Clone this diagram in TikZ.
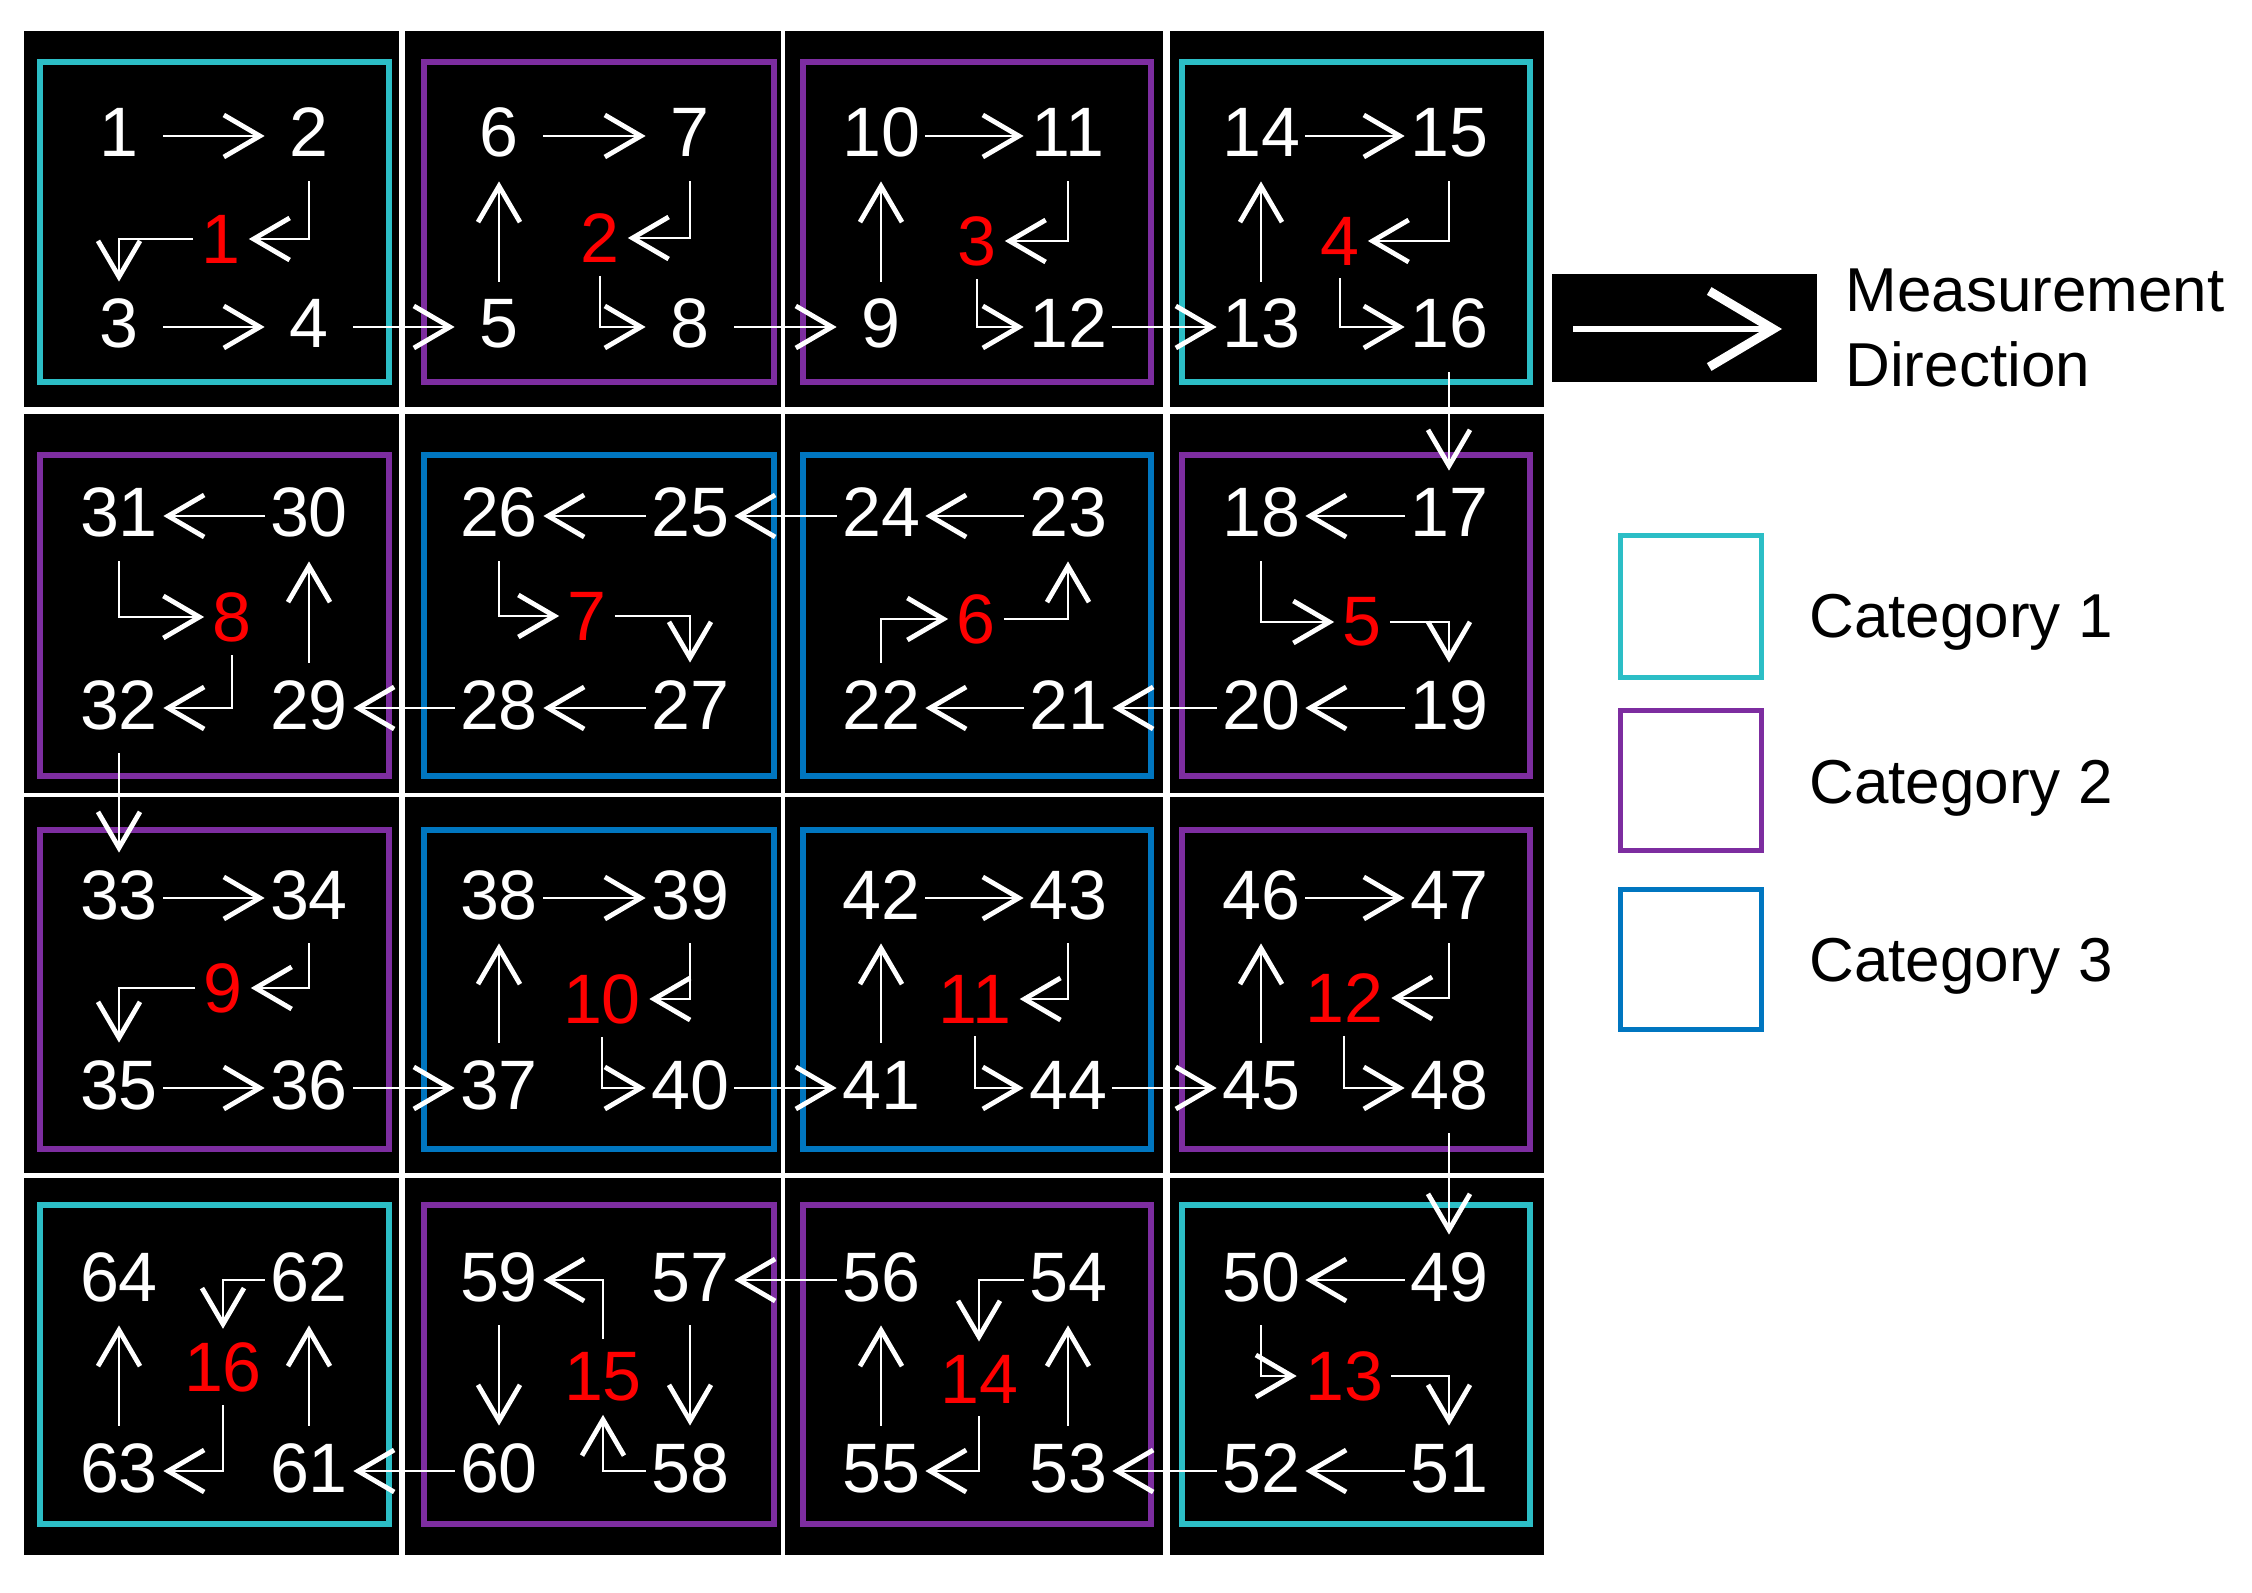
\documentclass[tikz,border=0pt]{standalone}
\usepackage{fontspec}
\setmainfont{Liberation Sans}
\usetikzlibrary{arrows.meta}
\definecolor{catA}{RGB}{44,190,198}
\definecolor{catB}{RGB}{125,45,160}
\definecolor{catC}{RGB}{0,118,192}
\definecolor{redn}{RGB}{255,0,0}
\begin{document}
\begin{tikzpicture}[x=0.5pt, y=-0.5pt,
  num/.style={text=white, font=\fontsize{35pt}{42pt}\selectfont, minimum width=44pt, minimum height=45pt, inner sep=0pt, text height=25pt, text depth=4pt},
  rnum/.style={text=redn, font=\fontsize{35pt}{42pt}\selectfont, inner xsep=4pt, inner ysep=6.5pt},
  arr/.style={draw=white, line width=1.4pt, -{Straight Barb[length=18pt, width=21pt, line width=2.4pt]}},
  legarr/.style={draw=white, line width=2.6pt, -{Straight Barb[length=32pt, width=38pt, line width=4.5pt]}},
  frameA/.style={draw=catA, line width=3pt},
  frameB/.style={draw=catB, line width=3pt},
  frameC/.style={draw=catC, line width=3pt},
  legbox/.style={line width=2.5pt},
  legtxt/.style={text=black, font=\fontsize{31pt}{37pt}\selectfont, inner sep=0pt, anchor=base west}
]
\useasboundingbox (0,0) rectangle (2252,1593);
\fill[white] (0,0) rectangle (2252,1593);

% cells
\foreach \xa/\xb in {24/399,405/781,785/1163,1170/1544}
  \foreach \ya/\yb in {31/407,414/793,797/1173,1178/1555}
    \fill[black] (\xa,\ya) rectangle (\xb,\yb);

% frames (row 1)
\draw[frameA] (40,62) rectangle (389,382);
\draw[frameB] (424,62) rectangle (774,382);
\draw[frameB] (803,62) rectangle (1151,382);
\draw[frameA] (1182,62) rectangle (1530,382);
% row 2
\draw[frameB] (40,455) rectangle (389,776);
\draw[frameC] (424,455) rectangle (774,776);
\draw[frameC] (803,455) rectangle (1151,776);
\draw[frameB] (1182,455) rectangle (1530,776);
% row 3
\draw[frameB] (40,830) rectangle (389,1149);
\draw[frameC] (424,830) rectangle (774,1149);
\draw[frameC] (803,830) rectangle (1151,1149);
\draw[frameB] (1182,830) rectangle (1530,1149);
% row 4
\draw[frameA] (40,1205) rectangle (389,1524);
\draw[frameB] (424,1205) rectangle (774,1524);
\draw[frameB] (803,1205) rectangle (1151,1524);
\draw[frameA] (1182,1205) rectangle (1530,1524);

% numbers row 1
\node[num] (n1) at (119,136) {1};
\node[num] (n2) at (309,136) {2};
\node[num] (n3) at (119,327) {3};
\node[num] (n4) at (309,327) {4};
\node[num] (n5) at (499,327) {5};
\node[num] (n6) at (499,136) {6};
\node[num] (n7) at (690,136) {7};
\node[num] (n8) at (690,327) {8};
\node[num] (n9) at (881,327) {9};
\node[num] (n10) at (881,136) {10};
\node[num] (n11) at (1068,136) {11};
\node[num] (n12) at (1068,327) {12};
\node[num] (n13) at (1261,327) {13};
\node[num] (n14) at (1261,136) {14};
\node[num] (n15) at (1449,136) {15};
\node[num] (n16) at (1449,327) {16};
% row 2
\node[num] (n17) at (1449,516) {17};
\node[num] (n18) at (1261,516) {18};
\node[num] (n19) at (1449,708) {19};
\node[num] (n20) at (1261,708) {20};
\node[num] (n21) at (1068,708) {21};
\node[num] (n22) at (881,708) {22};
\node[num] (n23) at (1068,516) {23};
\node[num] (n24) at (881,516) {24};
\node[num] (n25) at (690,516) {25};
\node[num] (n26) at (499,516) {26};
\node[num] (n27) at (690,708) {27};
\node[num] (n28) at (499,708) {28};
\node[num] (n29) at (309,708) {29};
\node[num] (n30) at (309,516) {30};
\node[num] (n31) at (119,516) {31};
\node[num] (n32) at (119,708) {32};
% row 3
\node[num] (n33) at (119,898) {33};
\node[num] (n34) at (309,898) {34};
\node[num] (n35) at (119,1088) {35};
\node[num] (n36) at (309,1088) {36};
\node[num] (n37) at (499,1088) {37};
\node[num] (n38) at (499,898) {38};
\node[num] (n39) at (690,898) {39};
\node[num] (n40) at (690,1088) {40};
\node[num] (n41) at (881,1088) {41};
\node[num] (n42) at (881,898) {42};
\node[num] (n43) at (1068,898) {43};
\node[num] (n44) at (1068,1088) {44};
\node[num] (n45) at (1261,1088) {45};
\node[num] (n46) at (1261,898) {46};
\node[num] (n47) at (1449,898) {47};
\node[num] (n48) at (1449,1088) {48};
% row 4
\node[num] (n49) at (1449,1280) {49};
\node[num] (n50) at (1261,1280) {50};
\node[num] (n51) at (1449,1471) {51};
\node[num] (n52) at (1261,1471) {52};
\node[num] (n53) at (1068,1471) {53};
\node[num] (n54) at (1068,1280) {54};
\node[num] (n55) at (881,1471) {55};
\node[num] (n56) at (881,1280) {56};
\node[num] (n57) at (690,1280) {57};
\node[num] (n58) at (690,1471) {58};
\node[num] (n59) at (499,1280) {59};
\node[num] (n60) at (499,1471) {60};
\node[num] (n61) at (309,1471) {61};
\node[num] (n62) at (309,1280) {62};
\node[num] (n63) at (119,1471) {63};
\node[num] (n64) at (119,1280) {64};

% red numbers
\node[rnum] (r1) at (221,239) {1};
\node[rnum] (r2) at (600,238) {2};
\node[rnum] (r3) at (977,241) {3};
\node[rnum] (r4) at (1340,241) {4};
\node[rnum] (r5) at (1362,622) {5};
\node[rnum] (r6) at (976,619) {6};
\node[rnum] (r7) at (587,616) {7};
\node[rnum] (r8) at (232,617) {8};
\node[rnum] (r9) at (223,988) {9};
\node[rnum] (r10) at (602,999) {10};
\node[rnum] (r11) at (975,999) {11};
\node[rnum] (r12) at (1344,998) {12};
\node[rnum] (r13) at (1344,1376) {13};
\node[rnum] (r14) at (979,1379) {14};
\node[rnum] (r15) at (603,1377) {15};
\node[rnum] (r16) at (223,1367) {16};

% cell 1
\draw[arr] (n1.east) -- (n2.west);
\draw[arr] (n2.south) |- (r1.east);
\draw[arr] (r1.west) -| (n3.north);
\draw[arr] (n3.east) -- (n4.west);
\draw[arr] (n4.east) -- (n5.west);
% cell 2
\draw[arr] (n5.north) -- (n6.south);
\draw[arr] (n6.east) -- (n7.west);
\draw[arr] (n7.south) |- (r2.east);
\draw[arr] (r2.south) |- (n8.west);
\draw[arr] (n8.east) -- (n9.west);
% cell 3
\draw[arr] (n9.north) -- (n10.south);
\draw[arr] (n10.east) -- (n11.west);
\draw[arr] (n11.south) |- (r3.east);
\draw[arr] (r3.south) |- (n12.west);
\draw[arr] (n12.east) -- (n13.west);
% cell 4
\draw[arr] (n13.north) -- (n14.south);
\draw[arr] (n14.east) -- (n15.west);
\draw[arr] (n15.south) |- (r4.east);
\draw[arr] (r4.south) |- (n16.west);
\draw[arr] (n16.south) -- (n17.north);
% cell 5
\draw[arr] (n17.west) -- (n18.east);
\draw[arr] (n18.south) |- (r5.west);
\draw[arr] (r5.east) -| (n19.north);
\draw[arr] (n19.west) -- (n20.east);
\draw[arr] (n20.west) -- (n21.east);
% cell 6
\draw[arr] (n21.west) -- (n22.east);
\draw[arr] (n22.north) |- (r6.west);
\draw[arr] (r6.east) -| (n23.south);
\draw[arr] (n23.west) -- (n24.east);
\draw[arr] (n24.west) -- (n25.east);
% cell 7
\draw[arr] (n25.west) -- (n26.east);
\draw[arr] (n26.south) |- (r7.west);
\draw[arr] (r7.east) -| (n27.north);
\draw[arr] (n27.west) -- (n28.east);
\draw[arr] (n28.west) -- (n29.east);
% cell 8
\draw[arr] (n29.north) -- (n30.south);
\draw[arr] (n30.west) -- (n31.east);
\draw[arr] (n31.south) |- (r8.west);
\draw[arr] (r8.south) |- (n32.east);
\draw[arr] (n32.south) -- (n33.north);
% cell 9
\draw[arr] (n33.east) -- (n34.west);
\draw[arr] (n34.south) |- (r9.east);
\draw[arr] (r9.west) -| (n35.north);
\draw[arr] (n35.east) -- (n36.west);
\draw[arr] (n36.east) -- (n37.west);
% cell 10
\draw[arr] (n37.north) -- (n38.south);
\draw[arr] (n38.east) -- (n39.west);
\draw[arr] (n39.south) |- (r10.east);
\draw[arr] (r10.south) |- (n40.west);
\draw[arr] (n40.east) -- (n41.west);
% cell 11
\draw[arr] (n41.north) -- (n42.south);
\draw[arr] (n42.east) -- (n43.west);
\draw[arr] (n43.south) |- (r11.east);
\draw[arr] (r11.south) |- (n44.west);
\draw[arr] (n44.east) -- (n45.west);
% cell 12
\draw[arr] (n45.north) -- (n46.south);
\draw[arr] (n46.east) -- (n47.west);
\draw[arr] (n47.south) |- (r12.east);
\draw[arr] (r12.south) |- (n48.west);
\draw[arr] (n48.south) -- (n49.north);
% cell 13
\draw[arr] (n49.west) -- (n50.east);
\draw[arr] (n50.south) |- (r13.west);
\draw[arr] (r13.east) -| (n51.north);
\draw[arr] (n51.west) -- (n52.east);
\draw[arr] (n52.west) -- (n53.east);
% cell 14
\draw[arr] (n53.north) -- (n54.south);
\draw[arr] (n54.west) -| (r14.north);
\draw[arr] (r14.south) |- (n55.east);
\draw[arr] (n55.north) -- (n56.south);
\draw[arr] (n56.west) -- (n57.east);
% cell 15
\draw[arr] (n57.south) -- (n58.north);
\draw[arr] (n58.west) -| (r15.south);
\draw[arr] (r15.north) |- (n59.east);
\draw[arr] (n59.south) -- (n60.north);
\draw[arr] (n60.west) -- (n61.east);
% cell 16
\draw[arr] (n61.north) -- (n62.south);
\draw[arr] (n62.west) -| (r16.north);
\draw[arr] (r16.south) |- (n63.east);
\draw[arr] (n63.north) -- (n64.south);

% legend
\fill[black] (1552,274) rectangle (1817,382);
\coordinate (legS) at (1573,329);
\coordinate (legE) at (1782,329);
\draw[legarr] (legS) -- (legE);
\node[legtxt] (legM) at (1845,312) {Measurement};
\node[legtxt] (legD) at (1845,387) {Direction};
\draw[legbox, draw=catA] (1620,535) rectangle (1761,677);
\draw[legbox, draw=catB] (1620,710) rectangle (1761,850);
\draw[legbox, draw=catC] (1620,889) rectangle (1761,1029);
\node[legtxt] (cat1) at (1809,637) {Category 1};
\node[legtxt] (cat2) at (1809,803) {Category 2};
\node[legtxt] (cat3) at (1809,981) {Category 3};
\end{tikzpicture}
\end{document}
